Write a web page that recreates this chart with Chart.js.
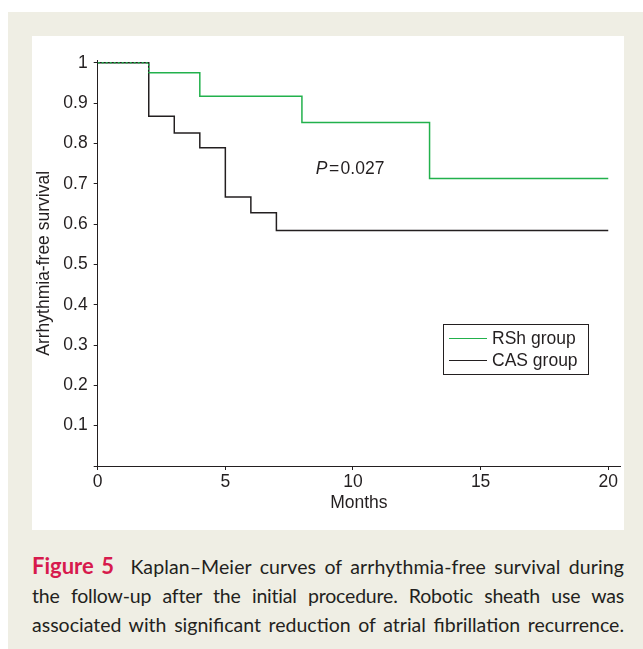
<!DOCTYPE html>
<html>
<head>
<meta charset="utf-8">
<script src="https://cdn.jsdelivr.net/npm/chart.js@4"></script>
<style>
  html, body { margin: 0; padding: 0; background: #fff; }
  body { width: 643px; height: 649px; position: relative; overflow: hidden; }
  .frame { position: absolute; left: 8px; top: 12px; width: 635px; height: 637px; background: #efeee4; }
  .panel { position: absolute; left: 32px; top: 36px; width: 592px; height: 494px; background: #fff; }
  .caption { position: absolute; left: 32px; top: 551px; width: 592px; font-family: Lato, "Open Sans", sans-serif; font-size: 19.5px; line-height: 29px; color: #231f20; }
  .caption div { white-space: nowrap; text-align: justify; text-align-last: justify; }
  .caption b { color: #d71a4d; font-weight: 700; font-size: 22px; letter-spacing: 0; word-spacing: -2px; margin-right: 8px; }
</style>
</head>
<body>
<div class="frame"></div>
<div class="panel"><canvas id="kmChart" width="592" height="494"></canvas></div>
<div class="caption">
  <div style="letter-spacing:0.1px; word-spacing:-1px"><b>Figure 5</b> Kaplan–Meier curves of arrhythmia-free survival during</div>
  <div style="letter-spacing:-0.2px">the follow-up after the initial procedure. Robotic sheath use was</div>
  <div style="letter-spacing:0px; word-spacing:-1px">associated with significant reduction of atrial fibrillation recurrence.</div>
</div>
<script>
// survival data (months, fraction event-free)
const rshMonths = [0, 2, 4, 8, 13, 20];
const rshSurvival = [1, 0.975, 0.917, 0.852, 0.713, 0.713];
const casMonths = [0, 2, 3, 4, 5, 6, 7, 20];
const casSurvival = [1, 0.867, 0.826, 0.789, 0.667, 0.628, 0.584, 0.584];

const xTicks = [0, 5, 10, 15, 20];
const yTicks = [0, 0.1, 0.2, 0.3, 0.4, 0.5, 0.6, 0.7, 0.8, 0.9, 1];

const seriesNames = ['RSh group', 'CAS group'];
const pValueText = '0.027';

const ink = '#231f20';
const green = '#22b14c';
const fontFamily = '"Liberation Sans", Arial, sans-serif';
const tickFont = { family: fontFamily, size: 17.5 };

const toPoints = (xs, ys) => xs.map((x, i) => ({ x: x, y: ys[i] }));

// legend box, drawn by hand to sit inside the plot like the original
const boxLegend = {
  id: 'boxLegend',
  afterDatasetsDraw(chart) {
    const ctx = chart.ctx;
    const area = chart.chartArea;
    const left = area.right - 177, top = 288;
    ctx.save();
    ctx.strokeStyle = ink;
    ctx.lineWidth = 1;
    ctx.strokeRect(left + 0.5, top + 0.5, 145, 50);
    ctx.font = '17.5px ' + fontFamily;
    ctx.textBaseline = 'middle';
    chart.data.datasets.forEach((ds, i) => {
      const y = top + 14.5 + i * 22;
      ctx.strokeStyle = ds.borderColor;
      ctx.lineWidth = 1.2;
      ctx.beginPath();
      ctx.moveTo(left + 6, y);
      ctx.lineTo(left + 44, y);
      ctx.stroke();
      ctx.fillStyle = ink;
      ctx.fillText(ds.label, left + 49, y + 1);
    });
    ctx.restore();
  }
};

// P value note
const pNote = {
  id: 'pNote',
  afterDatasetsDraw(chart) {
    const ctx = chart.ctx;
    const x = chart.scales.x.getPixelForValue(8.54);
    const y = chart.scales.y.getPixelForValue(0.736);
    ctx.save();
    ctx.fillStyle = ink;
    ctx.textBaseline = 'middle';
    ctx.font = 'italic 17.5px ' + fontFamily;
    ctx.fillText('P', x, y);
    const w = ctx.measureText('P').width;
    ctx.font = '17.5px ' + fontFamily;
    ctx.fillText('=', x + w + 1.5, y);
    const we = ctx.measureText('=').width;
    ctx.fillText(pValueText, x + w + we + 3, y);
    ctx.restore();
  }
};

const ctx = document.getElementById('kmChart').getContext('2d');
new Chart(ctx, {
  type: 'line',
  data: {
    datasets: [
      {
        label: seriesNames[0],
        data: toPoints(rshMonths, rshSurvival),
        borderColor: green,
        borderWidth: 1.5,
        stepped: 'before',
        pointRadius: 0,
        segment: {
          // dotted where it overlaps the CAS curve
          borderDash: c => c.p0DataIndex === 0 ? [2, 2] : undefined
        }
      },
      {
        label: seriesNames[1],
        data: toPoints(casMonths, casSurvival),
        borderColor: ink,
        borderWidth: 1.5,
        stepped: 'before',
        pointRadius: 0
      }
    ]
  },
  options: {
    responsive: false,
    animation: false,
    layout: { padding: { top: 24.7, right: 4, left: 0, bottom: 0 } },
    plugins: {
      legend: { display: false },
      tooltip: { enabled: false }
    },
    scales: {
      x: {
        type: 'linear',
        min: 0,
        max: 20.46,
        afterBuildTicks: s => { s.ticks = xTicks.map(v => ({ value: v })); },
        afterFit: s => { s.height = 64; },
        ticks: { font: tickFont, color: ink, padding: 2, maxRotation: 0 },
        grid: { drawOnChartArea: false, tickLength: 4, color: ink },
        border: { color: ink, width: 1 },
        title: { display: true, text: 'Months', font: tickFont, color: ink, padding: { top: 0, bottom: 16.5 } }
      },
      y: {
        type: 'linear',
        min: 0,
        max: 1.005,
        afterBuildTicks: s => { s.ticks = yTicks.map(v => ({ value: v })); },
        afterFit: s => { s.width = 65.7; },
        ticks: {
          font: tickFont,
          color: ink,
          padding: 6,
          callback: v => v === 0 ? '' : String(Math.round(v * 10) / 10)
        },
        grid: { drawOnChartArea: false, tickLength: 4, color: ink },
        border: { color: ink, width: 1 },
        title: { display: true, text: 'Arrhythmia-free survival', font: tickFont, color: ink, padding: { top: 2, bottom: 0 } }
      }
    }
  },
  plugins: [boxLegend, pNote]
});
</script>
</body>
</html>
